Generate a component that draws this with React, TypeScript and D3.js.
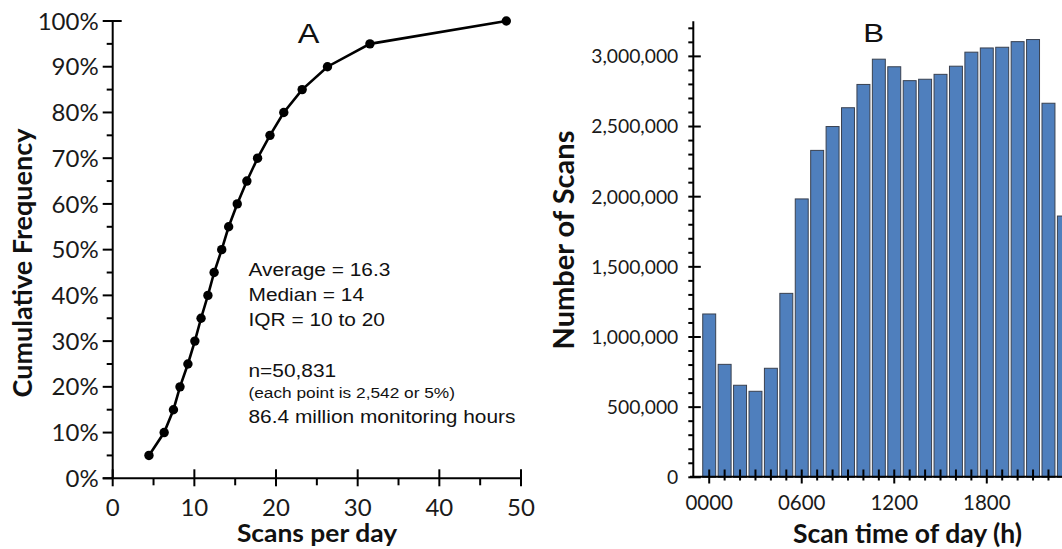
import React from 'react';
import * as d3 from 'd3';

// Panel A: cumulative frequency of daily scan counts (each point = 5% of sensors)
const cumulativePct = [5, 10, 15, 20, 25, 30, 35, 40, 45, 50, 55, 60, 65, 70, 75, 80, 85, 90, 95, 100];
const scansPerDay = [4.44, 6.3, 7.44, 8.24, 9.21, 10.06, 10.82, 11.66, 12.42, 13.35, 14.2, 15.25, 16.43, 17.74, 19.26, 20.95, 23.2, 26.3, 31.5, 48.2];
const xTicksA = [0, 10, 20, 30, 40, 50];
const yTicksA = [0, 10, 20, 30, 40, 50, 60, 70, 80, 90, 100];

const statsLines = ['Average = 16.3', 'Median = 14', 'IQR = 10 to 20'];
const sampleLines = ['n=50,831', '(each point is 2,542 or 5%)', '86.4 million monitoring hours'];

// Panel B: number of scans by hour of day
const hourLabels = ['0000', '0100', '0200', '0300', '0400', '0500', '0600', '0700', '0800', '0900', '1000', '1100',
  '1200', '1300', '1400', '1500', '1600', '1700', '1800', '1900', '2000', '2100', '2200', '2300'];
const scanCounts = [1164000, 805000, 656000, 613000, 777000, 1311000, 1984000, 2330000, 2500000, 2634000, 2800000, 2980000,
  2926000, 2827000, 2837000, 2872000, 2930000, 3030000, 3060000, 3065000, 3105000, 3120000, 2666000, 1862000];
const labeledHours = ['0000', '0600', '1200', '1800'];
const yTicksB = [0, 500000, 1000000, 1500000, 2000000, 2500000, 3000000];

const CAL = 'Lato, "Open Sans", sans-serif';
const ARIAL = '"Liberation Sans", Arial, sans-serif';

// Horizontally widened text, anchored at (x, y)
function WideText(props: { x: number; y: number; sx: number; size: number; family: string; weight?: number; anchor?: string; children: React.ReactNode }) {
  const { x, y, sx, size, family, weight, anchor, children } = props;
  return (
    <text transform={`translate(${x},${y}) scale(${sx},1)`} textAnchor={anchor || 'start'} fontFamily={family}
      fontWeight={weight || 400} fontSize={size} fill="#111">{children}</text>
  );
}

export default function App() {
  // ---- Panel A scales
  const xA = d3.scaleLinear().domain([0, 50]).range([112.7, 521]);
  const yA = d3.scaleLinear().domain([0, 100]).range([478.3, 21]);
  const pts = scansPerDay.map((v, i) => [v, cumulativePct[i]] as [number, number]);
  const lineA = d3.line<[number, number]>().x(d => xA(d[0])).y(d => yA(d[1]));
  const minorYA = d3.range(5, 100, 10);
  const minorXA = d3.range(5, 50, 10);

  // ---- Panel B scales
  const xB = d3.scaleBand<string>().domain(hourLabels).range([701.5, 1071.6]).paddingInner(0.16).paddingOuter(0.08);
  const yB = d3.scaleLinear().domain([0, 3250000]).range([477.3, 21.3]);
  const minorYB = d3.range(100000, 3250000, 100000).filter(v => v % 500000 !== 0);
  const axisYB = 693.3;

  return (
    <svg width={1062} height={549} style={{ position: 'absolute', left: 0, top: 0, background: '#fff' }}>
      {/* ================= Panel A ================= */}
      <g>
        {/* y axis */}
        <line x1={xA(0)} x2={xA(0)} y1={yA(100)} y2={yA(0)} stroke="#000" strokeWidth={2} />
        {yTicksA.map(t => (
          <g key={'ya' + t}>
            <line x1={xA(0) - 10} x2={xA(0) + (t === 100 ? 9 : 0)} y1={yA(t)} y2={yA(t)} stroke="#000" strokeWidth={2} />
            <text x={xA(0) - 14} y={yA(t)} dy="0.36em" textAnchor="end" fontFamily={CAL} fontSize={24} fill="#1a1a1a">{t}%</text>
          </g>
        ))}
        {minorYA.map(t => (
          <line key={'yam' + t} x1={xA(0) - 6} x2={xA(0)} y1={yA(t)} y2={yA(t)} stroke="#000" strokeWidth={2} />
        ))}
        {/* x axis */}
        <line x1={xA(0) - 10} x2={xA(50)} y1={yA(0)} y2={yA(0)} stroke="#000" strokeWidth={2} />
        {xTicksA.map(t => (
          <g key={'xa' + t}>
            <line x1={xA(t)} x2={xA(t)} y1={yA(0) - 9} y2={yA(0) + 8} stroke="#000" strokeWidth={2} />
            <text x={xA(t)} y={515.5} textAnchor="middle" fontFamily={CAL} fontSize={24} fill="#1a1a1a">{t}</text>
          </g>
        ))}
        {minorXA.map(t => (
          <line key={'xam' + t} x1={xA(t)} x2={xA(t)} y1={yA(0)} y2={yA(0) + 7} stroke="#000" strokeWidth={2} />
        ))}
        {/* curve */}
        <path d={lineA(pts) || ''} fill="none" stroke="#000" strokeWidth={2.6} />
        {pts.map((d, i) => (
          <circle key={'p' + i} cx={xA(d[0])} cy={yA(d[1])} r={4.7} fill="#000" />
        ))}
        {/* titles */}
        <WideText x={308.5} y={42.7} sx={1.2} size={27} family={ARIAL} anchor="middle">A</WideText>
        <WideText x={317} y={541.5} sx={1.1} size={24} family={CAL} weight={700} anchor="middle">Scans per day</WideText>
        <text transform="translate(32,263) rotate(-90)" textAnchor="middle" fontFamily={CAL} fontWeight={700} fontSize={27} fill="#111">Cumulative Frequency</text>
        {/* annotation */}
        {statsLines.map((s, i) => (
          <WideText key={'s' + i} x={248.5} y={276 + i * 25} sx={1.13} size={18.5} family={ARIAL}>{s}</WideText>
        ))}
        <WideText x={248.5} y={376.7} sx={1.13} size={18.5} family={ARIAL}>{sampleLines[0]}</WideText>
        <WideText x={248.5} y={398.3} sx={1.13} size={15.3} family={ARIAL}>{sampleLines[1]}</WideText>
        <WideText x={248.5} y={422.7} sx={1.13} size={18.5} family={ARIAL}>{sampleLines[2]}</WideText>
      </g>

      {/* ================= Panel B ================= */}
      <g>
        {scanCounts.map((v, i) => (
          <rect key={'b' + i} x={xB(hourLabels[i])} y={yB(v)} width={xB.bandwidth()} height={yB(0) - yB(v)}
            fill="#4f7fbd" stroke="#394150" strokeWidth={1} />
        ))}
        {/* y axis */}
        <line x1={axisYB} x2={axisYB} y1={yB(3250000)} y2={yB(0)} stroke="#000" strokeWidth={2} />
        {yTicksB.map(t => (
          <g key={'yb' + t}>
            <line x1={axisYB - 5} x2={axisYB + 7.5} y1={yB(t)} y2={yB(t)} stroke="#000" strokeWidth={2} />
            <text x={axisYB - 15} y={yB(t)} dy="0.36em" textAnchor="end" fontFamily={CAL} fontSize={19.3} fill="#1a1a1a">{d3.format(',')(t)}</text>
          </g>
        ))}
        {minorYB.map(t => (
          <line key={'ybm' + t} x1={axisYB - 5} x2={axisYB} y1={yB(t)} y2={yB(t)} stroke="#000" strokeWidth={2} />
        ))}
        {/* x axis */}
        <line x1={690} x2={1062} y1={yB(0) - 0.6} y2={yB(0) - 0.6} stroke="#000" strokeWidth={2} />
        {hourLabels.map(h => {
          const cx = (xB(h) || 0) + xB.bandwidth() / 2;
          const major = labeledHours.includes(h);
          return (
            <line key={'xb' + h} x1={cx} x2={cx} y1={469.5} y2={major ? 483.5 : 480.5} stroke="#000" strokeWidth={2} />
          );
        })}
        {labeledHours.map(h => (
          <text key={'xbl' + h} x={(xB(h) || 0) + xB.bandwidth() / 2} y={509.5} textAnchor="middle" fontFamily={CAL} fontSize={20.5} fill="#1a1a1a">{h}</text>
        ))}
        {/* titles */}
        <WideText x={873.7} y={42} sx={1.2} size={26} family={ARIAL} anchor="middle">B</WideText>
        <text x={907.5} y={542.5} textAnchor="middle" fontFamily={CAL} fontWeight={700} fontSize={26.5} fill="#111">Scan time of day (h)</text>
        <text transform="translate(574,240) rotate(-90)" textAnchor="middle" fontFamily={CAL} fontWeight={700} fontSize={29} fill="#111">Number of Scans</text>
      </g>
    </svg>
  );
}
